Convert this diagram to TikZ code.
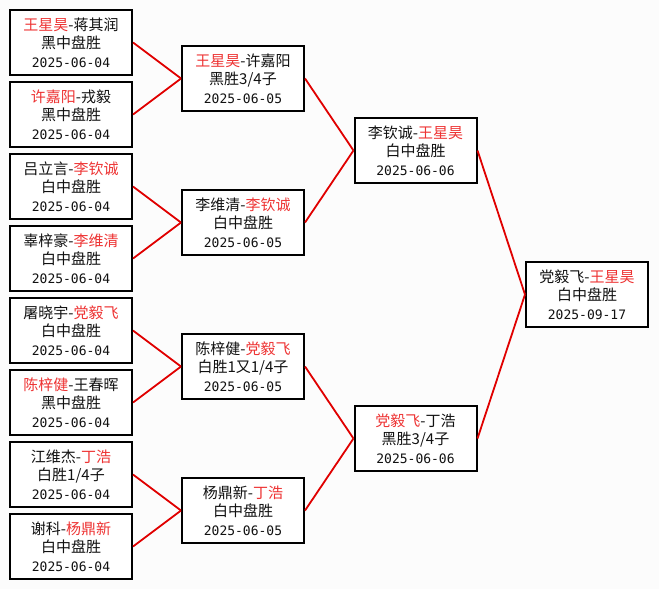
\documentclass[tikz,border=0pt]{standalone}
\usepackage{fontspec}
\usepackage{tikz}
\usetikzlibrary{arrows.meta,positioning,calc}
\newfontfamily\cjk{Noto Sans CJK SC}
\newfontfamily\digits{DejaVu Sans Mono}
\definecolor{ink}{HTML}{111111}
\definecolor{winner}{HTML}{EE3333}
\definecolor{wire}{HTML}{E00000}
\definecolor{paper}{HTML}{FCFCFC}
\newcommand{\wn}[1]{\textcolor{winner}{#1}}
\newcommand{\dt}[1]{{\digits\fontsize{13}{18.5}\selectfont #1}}
\tikzset{
  game/.style={
    draw=black,
    fill=white,
    line width=2pt,
    minimum width=122pt,
    minimum height=65pt,
    inner sep=0pt,
    text=ink,
    align=center,
    font=\cjk\fontsize{15}{18.5}\selectfont
  },
  link/.style={draw=wire, line width=1.8pt}
}

\begin{document}
\begin{tikzpicture}[x=1pt,y=-1pt]
  \fill[paper] (0,0) rectangle (659,589);
  \useasboundingbox (0,0) rectangle (659,589);

  % first round
  \node[game] (r1a) at (71,42.5)  {\wn{王星昊}-蒋其润\\黑中盘胜\\\dt{2025-06-04}};
  \node[game] (r1b) at (71,114.5) {\wn{许嘉阳}-戎毅\\黑中盘胜\\\dt{2025-06-04}};
  \node[game] (r1c) at (71,186.5) {吕立言-\wn{李钦诚}\\白中盘胜\\\dt{2025-06-04}};
  \node[game] (r1d) at (71,258.5) {辜梓豪-\wn{李维清}\\白中盘胜\\\dt{2025-06-04}};
  \node[game] (r1e) at (71,330.5) {屠晓宇-\wn{党毅飞}\\白中盘胜\\\dt{2025-06-04}};
  \node[game] (r1f) at (71,402.5) {\wn{陈梓健}-王春晖\\黑中盘胜\\\dt{2025-06-04}};
  \node[game] (r1g) at (71,474.5) {江维杰-\wn{丁浩}\\白胜1/4子\\\dt{2025-06-04}};
  \node[game] (r1h) at (71,546.5) {谢科-\wn{杨鼎新}\\白中盘胜\\\dt{2025-06-04}};

  % second round
  \node[game] (r2a) at (243,78.5)  {\wn{王星昊}-许嘉阳\\黑胜3/4子\\\dt{2025-06-05}};
  \node[game] (r2b) at (243,222.5) {李维清-\wn{李钦诚}\\白中盘胜\\\dt{2025-06-05}};
  \node[game] (r2c) at (243,366.5) {陈梓健-\wn{党毅飞}\\白胜1又1/4子\\\dt{2025-06-05}};
  \node[game] (r2d) at (243,510.5) {杨鼎新-\wn{丁浩}\\白中盘胜\\\dt{2025-06-05}};

  % semi finals
  \node[game] (r3a) at (415.5,150.5) {李钦诚-\wn{王星昊}\\白中盘胜\\\dt{2025-06-06}};
  \node[game] (r3b) at (415.5,438.5) {\wn{党毅飞}-丁浩\\黑胜3/4子\\\dt{2025-06-06}};

  % final
  \node[game] (fin) at (587,294.5) {党毅飞-\wn{王星昊}\\白中盘胜\\\dt{2025-09-17}};

  \foreach \a/\b in {r1a/r2a,r1b/r2a,r1c/r2b,r1d/r2b,r1e/r2c,r1f/r2c,r1g/r2d,r1h/r2d,
                     r2a/r3a,r2b/r3a,r2c/r3b,r2d/r3b,r3a/fin,r3b/fin}
    \draw[link] (\a.east) -- (\b.west);
\end{tikzpicture}
\end{document}
